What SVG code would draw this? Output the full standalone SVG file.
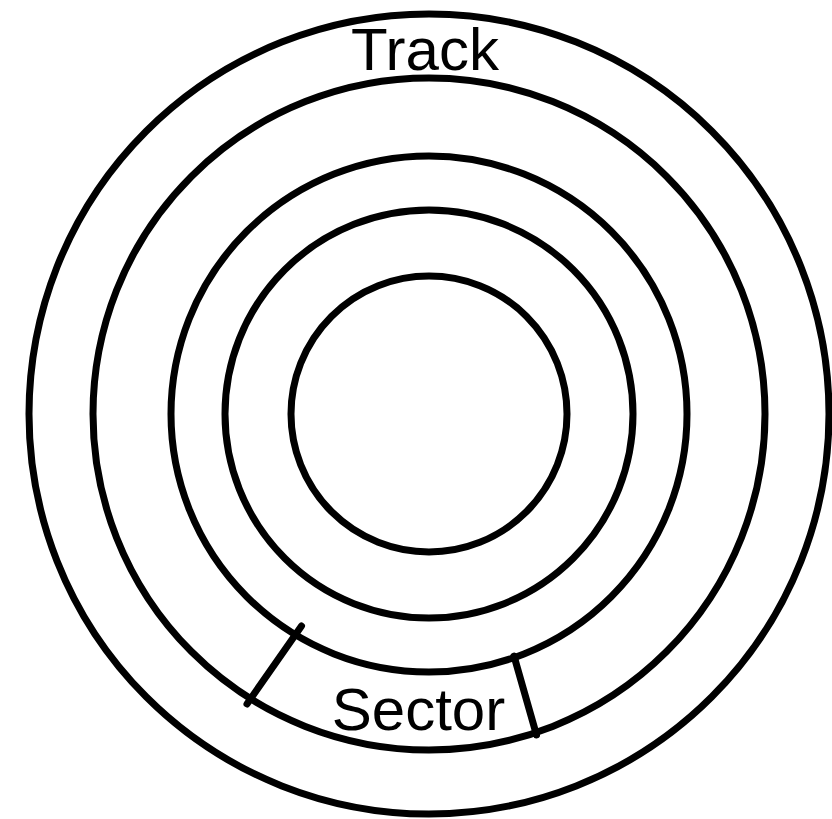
<svg xmlns="http://www.w3.org/2000/svg" width="832" height="819" viewBox="0 0 832 819">
<style>
.ring{fill:none;stroke:#000;stroke-width:7}
.sep{stroke:#000;stroke-width:7;stroke-linecap:round}
.lbl{font-family:"Liberation Sans",Arial,sans-serif;font-size:60px;fill:#000;text-anchor:middle}
</style>
<rect width="832" height="819" fill="#fff"/>
<g id="disk">
<circle class="ring" cx="429" cy="414" r="400"/>
<circle class="ring" cx="429" cy="414" r="336"/>
<circle class="ring" cx="429" cy="414" r="258"/>
<circle class="ring" cx="429" cy="414" r="204"/>
<circle class="ring" cx="429" cy="414" r="138"/>
</g>
<g id="sector-lines">
<line class="sep" x1="301.5" y1="626" x2="247" y2="704"/>
<line class="sep" x1="514" y1="656" x2="536.5" y2="735"/>
</g>
<g id="labels">
<text class="lbl" x="425" y="70">Track</text>
<text class="lbl" x="418.5" y="730">Sector</text>
</g>
</svg>
